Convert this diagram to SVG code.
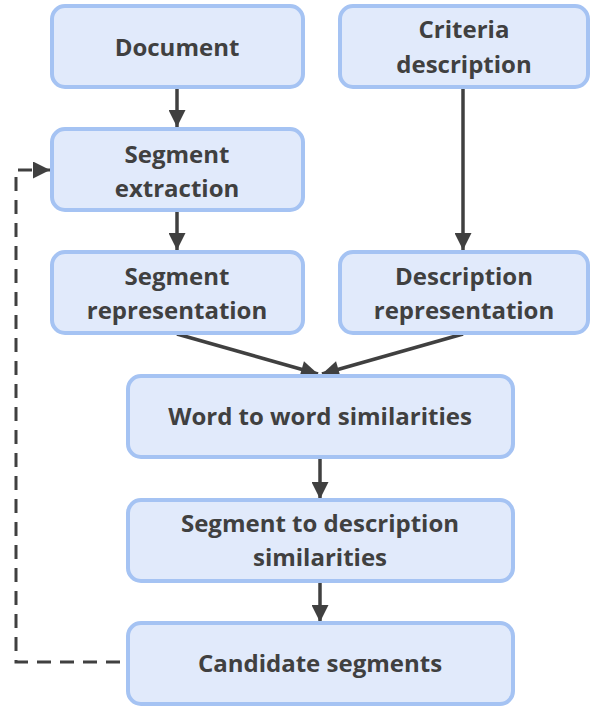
<svg xmlns="http://www.w3.org/2000/svg" width="591" height="709" viewBox="0 0 591 709">
<style>
.box{fill:#e1eafb;stroke:#a5c3f3;stroke-width:4}
.t{font-family:"Open Sans","Liberation Sans",sans-serif;font-weight:bold;font-size:24px;fill:#404040;text-anchor:middle}
.c{stroke:#404040;stroke-width:3.5;fill:none}
.d{stroke:#404040;stroke-width:3;fill:none;stroke-dasharray:14 9}
</style>
<defs>
<marker id="ah" viewBox="0 0 10 10" refX="10" refY="5" markerUnits="userSpaceOnUse" markerWidth="22" markerHeight="17" orient="auto">
<path d="M0,0 L10,5 L0,10 z" fill="#404040"/>
</marker>
</defs>
<rect width="591" height="709" fill="#fff"/>
<g id="connectors">
<line class="c" x1="177" y1="87" x2="177" y2="127" marker-end="url(#ah)"/>
<line class="c" x1="463" y1="87" x2="463" y2="250" marker-end="url(#ah)"/>
<line class="c" x1="177" y1="210" x2="177" y2="250" marker-end="url(#ah)"/>
<line class="c" x1="177" y1="334" x2="318" y2="374" marker-end="url(#ah)"/>
<line class="c" x1="463" y1="334" x2="322" y2="374" marker-end="url(#ah)"/>
<line class="c" x1="320" y1="457" x2="320" y2="499" marker-end="url(#ah)"/>
<line class="c" x1="320" y1="581" x2="320" y2="622" marker-end="url(#ah)"/>
<path class="d" d="M120,662 H16 V170 H50" marker-end="url(#ah)"/>
</g>
<g id="document"><rect class="box" x="52" y="6" width="251" height="81" rx="13"/><text class="t" x="177" y="56">Document</text></g>
<g id="criteria"><rect class="box" x="340" y="6" width="248" height="81" rx="13"/><text class="t" x="464" y="38">Criteria</text><text class="t" x="464" y="73">description</text></g>
<g id="segext"><rect class="box" x="52" y="129" width="251" height="81" rx="13"/><text class="t" x="177" y="163">Segment</text><text class="t" x="177" y="197">extraction</text></g>
<g id="segrep"><rect class="box" x="52" y="252" width="251" height="81" rx="13"/><text class="t" x="177" y="285">Segment</text><text class="t" x="177" y="319">representation</text></g>
<g id="descrep"><rect class="box" x="340" y="252" width="248" height="81" rx="13"/><text class="t" x="464" y="285">Description</text><text class="t" x="464" y="319">representation</text></g>
<g id="w2w"><rect class="box" x="128" y="376" width="385" height="81" rx="13"/><text class="t" x="320" y="425">Word to word similarities</text></g>
<g id="s2d"><rect class="box" x="128" y="500" width="385" height="81" rx="13"/><text class="t" x="320" y="532">Segment to description</text><text class="t" x="320" y="566">similarities</text></g>
<g id="cand"><rect class="box" x="128" y="623" width="385" height="81" rx="13"/><text class="t" x="320" y="672">Candidate segments</text></g>
</svg>
